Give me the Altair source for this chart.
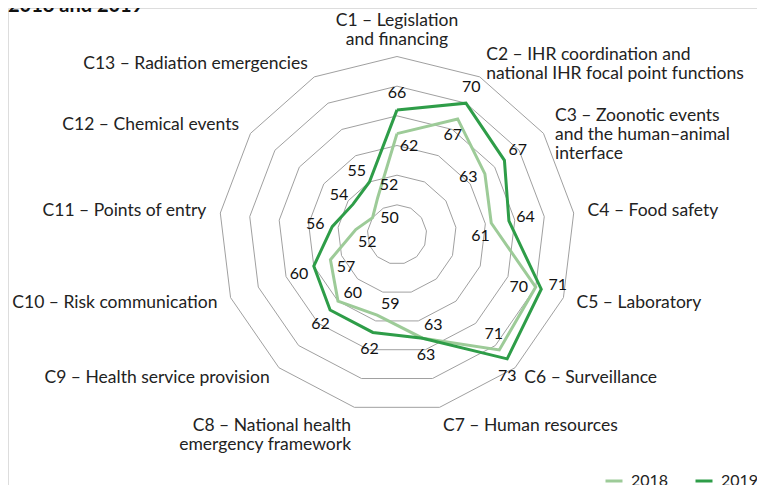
import math
import altair as alt
import pandas as pd

# ---------------- data ----------------
categories = [
    "C1 – Legislation\nand financing",
    "C2 – IHR coordination and\nnational IHR focal point functions",
    "C3 – Zoonotic events\nand the human–animal\ninterface",
    "C4 – Food safety",
    "C5 – Laboratory",
    "C6 – Surveillance",
    "C7 – Human resources",
    "C8 – National health\nemergency framework",
    "C9 – Health service provision",
    "C10 – Risk communication",
    "C11 – Points of entry",
    "C12 – Chemical events",
    "C13 – Radiation emergencies",
]
values_2018 = [62, 67, 63, 61, 70, 71, 63, 59, 60, 57, 52, 50, 52]
values_2019 = [66, 70, 67, 64, 71, 73, 63, 62, 62, 60, 56, 54, 55]
ring_levels = [50, 55, 60, 65, 70, 75]
series_names = ["2018", "2019"]
series_colors = ["#9dcb98", "#2e9d48"]
title_text = "2018 and 2019"

# ---------------- layout ----------------
W, H = 749, 477
RADIUS_PX = 178.0
CX, CY = 389.0, 226.5          # centre inside the plot area (px)
R_MIN, R_MAX = 45, 75
N = len(categories)
LINE_H = 19
LABEL_DIST = 17
# direction (screen degrees, clockwise from east) of each value label from its point
label_dir_2018 = [45, 107, 169, 129, 180, 251, 309, 321, 330, 24, 47, 0, 312]
label_dir_2019 = [270, 288, 322, 346, 347, 90, 78, 101, 124, 151, 188, 214, 222]


def angle(i):
    return 2 * math.pi * i / N


def xy(v, i, extra_px=0.0):
    r = (v - R_MIN) / (R_MAX - R_MIN) + extra_px / RADIUS_PX
    a = angle(i)
    return r * math.sin(a), r * math.cos(a)


# grid rings
ring_rows = []
for lv in ring_levels:
    for k in range(N + 1):
        x, y = xy(lv, k % N)
        ring_rows.append({"level": lv, "order": k, "x": x, "y": y})
rings = pd.DataFrame(ring_rows)

# series polygons + value labels
series_rows = []
label_rows = []
for name, vals, dirs in [("2018", values_2018, label_dir_2018),
                         ("2019", values_2019, label_dir_2019)]:
    for k in range(N + 1):
        x, y = xy(vals[k % N], k % N)
        series_rows.append({"series": name, "order": k, "x": x, "y": y})
    for i, v in enumerate(vals):
        x, y = xy(v, i)
        t = math.radians(dirs[i])
        label_rows.append({"series": name,
                           "x": x + math.cos(t) * LABEL_DIST / RADIUS_PX,
                           "y": y - math.sin(t) * LABEL_DIST / RADIUS_PX,
                           "text": str(v)})
series_df = pd.DataFrame(series_rows)
labels_df = pd.DataFrame(label_rows)

# category labels
cat_rows = []
for i, c in enumerate(categories):
    x, y = xy(R_MAX, i, 14)
    a = angle(i)
    s, co = math.sin(a), math.cos(a)
    n = c.count("\n") + 1
    side = "left" if s > 0.2 else ("right" if s < -0.2 else "center")
    if co > 0.95:
        y += (2.5 + LINE_H * (n - 1)) / RADIUS_PX
    elif co < -0.95:
        y -= 5 / RADIUS_PX
    elif n > 1:
        y += (LINE_H / 2) / RADIUS_PX
    cat_rows.append({"cat": c, "x": x, "y": y, "side": side})
cats_df = pd.DataFrame(cat_rows)

xscale = alt.Scale(domain=[-CX / RADIUS_PX, (W - CX) / RADIUS_PX], nice=False, zero=False)
yscale = alt.Scale(domain=[-(H - CY) / RADIUS_PX, CY / RADIUS_PX], nice=False, zero=False)
X = alt.X("x:Q", scale=xscale, axis=None)
Y = alt.Y("y:Q", scale=yscale, axis=None)

FONT = "Lato"

grid = alt.Chart(rings).mark_line(stroke="#a0a0a0", strokeWidth=1).encode(
    x=X, y=Y, detail="level:N", order="order:Q"
)

lines = alt.Chart(series_df).mark_line(strokeWidth=3, strokeJoin="miter").encode(
    x=X,
    y=Y,
    order="order:Q",
    color=alt.Color(
        "series:N",
        scale=alt.Scale(domain=series_names, range=series_colors),
        legend=alt.Legend(
            title=None,
            orient="none",
            legendX=596,
            legendY=463,
            direction="horizontal",
            symbolType="stroke",
            symbolStrokeWidth=3,
            symbolSize=289,
            labelFont=FONT,
            labelFontSize=16,
            labelColor="#222222",
            labelOffset=7,
            columnPadding=20,
        ),
    ),
)

value_text = alt.Chart(labels_df).mark_text(
    font=FONT, fontSize=16, color="#111111", align="center", baseline="middle"
).encode(x=X, y=Y, text="text:N")

cat_common = dict(font=FONT, fontSize=17.5, color="#222222", lineBreak="\n", lineHeight=LINE_H)
cat_left = alt.Chart(cats_df).transform_filter(alt.datum.side == "left").mark_text(
    align="left", baseline="middle", **cat_common
).encode(x=X, y=Y, text="cat:N")
cat_right = alt.Chart(cats_df).transform_filter(alt.datum.side == "right").mark_text(
    align="right", baseline="middle", **cat_common
).encode(x=X, y=Y, text="cat:N")
cat_center = alt.Chart(cats_df).transform_filter(alt.datum.side == "center").mark_text(
    align="center", baseline="middle", **cat_common
).encode(x=X, y=Y, text="cat:N")

title_mark = alt.Chart(pd.DataFrame({"t": [title_text]})).mark_text(
    font=FONT, fontSize=20, fontWeight="bold", color="#111111",
    align="left", baseline="alphabetic"
).encode(x=alt.value(0), y=alt.value(4), text="t:N")

chart = (
    alt.layer(grid, lines, value_text, cat_left, cat_right, cat_center, title_mark)
    .properties(
        width=W,
        height=H,
        autosize=alt.AutoSizeParams(type="none"),
        padding=0,
    )
    .configure_view(stroke="#ffffff", strokeWidth=2, fill="#ffffff")
    .configure(background="#ffffff")
)

chart.save("out.html", embed_options={"renderer": "svg", "actions": False})
